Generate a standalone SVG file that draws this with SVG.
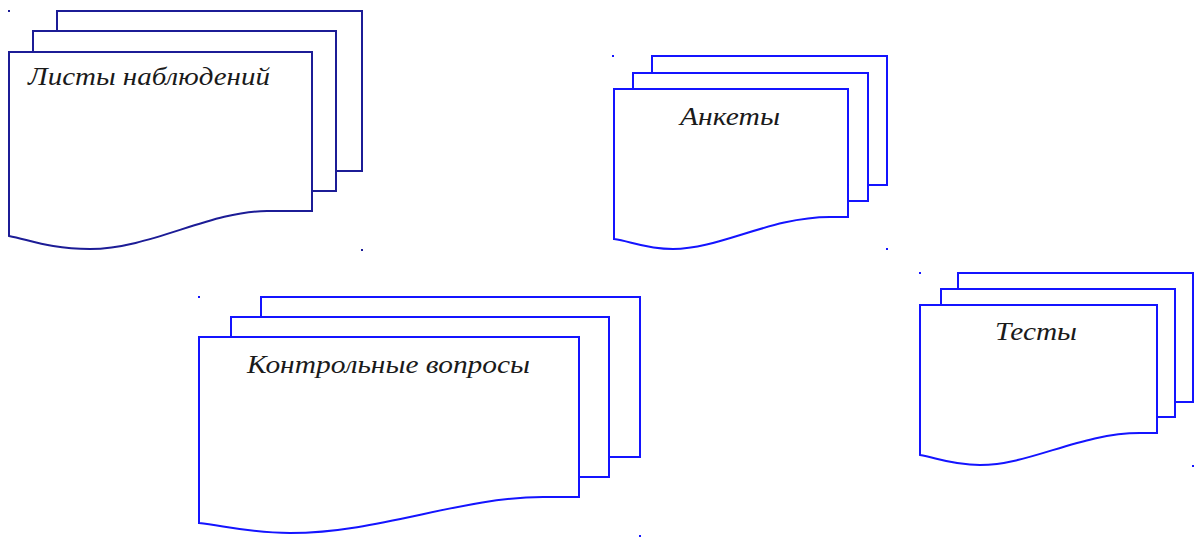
<svg xmlns="http://www.w3.org/2000/svg" width="1195" height="537" viewBox="0 0 1195 537">
<style>
.s1{fill:#fff;stroke:#1c1c96;stroke-width:2}
.s2{fill:#fff;stroke:#1414ff;stroke-width:2}
.t{font-family:"Liberation Serif","Times New Roman",serif;font-style:italic;font-size:25px;fill:#1a1a1a}
.d1{fill:#1c1c96}
.d2{fill:#1414ff}
</style>
<rect width="1195" height="537" fill="#fff"/>
<g id="node-listy">
<rect class="s1" x="57" y="11" width="305" height="160"/>
<rect class="s1" x="33" y="31" width="303" height="160"/>
<path class="s1" d="M9,52 H312 V211 H267 C210,211 150,249 90,249 C50,249 30,240 9,236 Z"/>
<text class="t" x="28" y="85" textLength="242" lengthAdjust="spacingAndGlyphs">Листы наблюдений</text>
<rect class="d1" x="8" y="10" width="2" height="2"/>
<rect class="d1" x="361" y="249" width="2" height="2"/>
</g>
<g id="node-ankety">
<rect class="s2" x="652" y="56" width="235" height="129"/>
<rect class="s2" x="633" y="73" width="235" height="128"/>
<path class="s2" d="M614,89 H848 V217 H830 C770,217 720,249 673,249 C645,249 630,241 614,239 Z"/>
<text class="t" x="680" y="125" textLength="100" lengthAdjust="spacingAndGlyphs">Анкеты</text>
<rect class="d2" x="612" y="55" width="2" height="2"/>
<rect class="d2" x="886" y="248" width="2" height="2"/>
</g>
<g id="node-kontrol">
<rect class="s2" x="261" y="297" width="379" height="160"/>
<rect class="s2" x="231" y="317" width="378" height="160"/>
<path class="s2" d="M199,337 H579 V497 H543 C460,497 380,533 290,533 C250,533 225,526 199,523 Z"/>
<text class="t" x="247" y="373" textLength="283" lengthAdjust="spacingAndGlyphs">Контрольные вопросы</text>
<rect class="d2" x="198" y="296" width="2" height="2"/>
<rect class="d2" x="639" y="535" width="2" height="2"/>
</g>
<g id="node-testy">
<rect class="s2" x="958" y="273" width="235" height="129"/>
<rect class="s2" x="941" y="289" width="234" height="128"/>
<path class="s2" d="M920,305 H1157 V433 H1140 C1080,433 1030,465 980,465 C952,465 937,458 920,455 Z"/>
<text class="t" x="995" y="340" textLength="82" lengthAdjust="spacingAndGlyphs">Тесты</text>
<rect class="d2" x="919" y="272" width="2" height="2"/>
<rect class="d2" x="1192" y="465" width="2" height="2"/>
</g>
<g id="connectors"></g>
</svg>
